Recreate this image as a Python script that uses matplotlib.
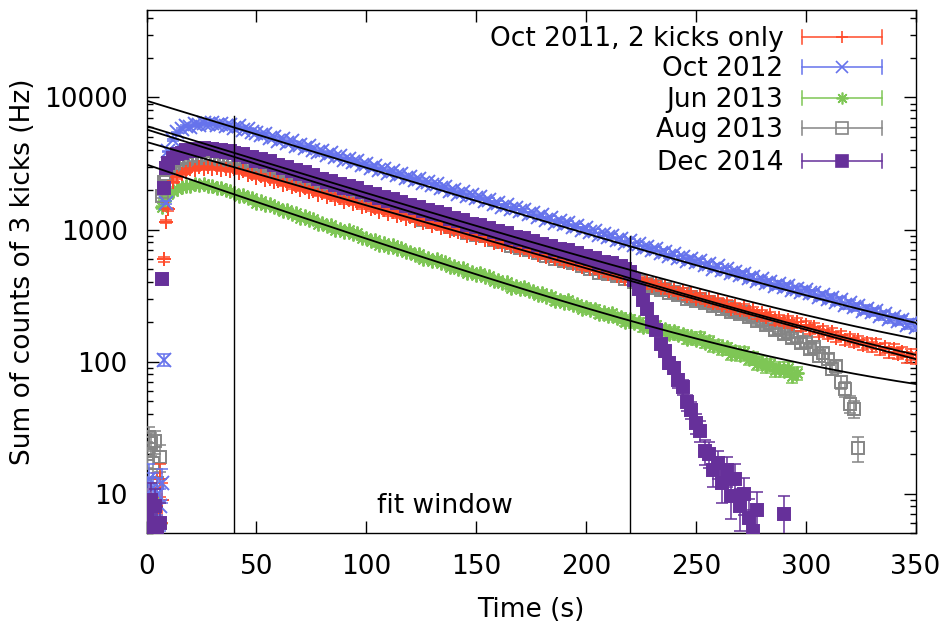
import numpy as np
import matplotlib
matplotlib.use('Agg')
import matplotlib.pyplot as plt
from matplotlib.ticker import FixedLocator, LogLocator, NullFormatter

# ---- data: first 10 s in 1 s bins, afterwards every 2 s ----
t_early = list(range(10))

oct11_t = t_early + list(range(10, 351, 2))
oct11_v = [8, 9, 6, 7, 6, 11, 13, 9, 595, 1150,
           1430, 2300, 2480, 2650, 2720, 2860, 2830, 2950, 2880, 2960, 2870, 2920, 2810, 2870, 2760,
           2850, 2700, 2760, 2580, 2640, 2470, 2560, 2390, 2420, 2290,
           2320, 2180, 2230, 2090, 2140, 1990, 2060, 1920, 1960, 1840,
           1880, 1760, 1810, 1700, 1720, 1610, 1660, 1560, 1590, 1480,
           1520, 1430, 1460, 1360, 1400, 1310, 1350, 1260, 1290, 1210,
           1240, 1170, 1200, 1120, 1150, 1060, 1100, 1030, 1050, 980,
           1000, 950, 970, 900, 930, 860, 890, 835, 850, 795,
           810, 770, 785, 735, 750, 700, 725, 675, 690, 645,
           660, 620, 635, 595, 605, 565, 590, 550, 560, 520,
           535, 505, 515, 480, 490, 460, 478, 445, 455, 420,
           432, 410, 418, 390, 400, 372, 388, 360, 368, 342,
           350, 332, 340, 312, 322, 300, 315, 290, 298, 276,
           285, 268, 274, 252, 262, 245, 256, 236, 244, 226,
           232, 218, 224, 205, 212, 200, 208, 193, 198, 185,
           190, 176, 182, 165, 172, 160, 166, 152, 158, 145,
           150, 140, 145, 133, 138, 130, 136, 124, 128, 118,
           124, 115, 119, 108, 113, 106]

oct12_t = t_early + list(range(10, 351, 2))
oct12_v = [9, 13, 7, 11, 6, 10, 8, 12, 103, 1600,
           3900, 4750, 5450, 5750, 6080, 6020, 6300, 6180, 6420, 6250, 6380, 6150, 6320, 6050, 6200,
           5900, 6050, 5720, 5800, 5480, 5420, 5160, 5330, 4970, 5050,
           4720, 4830, 4560, 4650, 4290, 4380, 4120, 4260, 3980, 3890,
           3900, 3660, 3770, 3520, 3600, 3380, 3450, 3230, 3300, 3080,
           3150, 2940, 3040, 2820, 2870, 2700, 2760, 2580, 2640, 2450,
           2510, 2360, 2420, 2250, 2300, 2160, 2220, 2060, 2100, 1960,
           2000, 1860, 1920, 1780, 1810, 1720, 1760, 1640, 1680, 1560,
           1600, 1490, 1530, 1420, 1460, 1380, 1400, 1310, 1330, 1240,
           1280, 1190, 1220, 1130, 1160, 1100, 1120, 1040, 1070, 990,
           1020, 950, 975, 905, 930, 880, 890, 830, 850, 790,
           815, 760, 780, 725, 740, 705, 715, 665, 680, 630,
           655, 610, 620, 580, 595, 565, 575, 535, 545, 505,
           525, 490, 500, 465, 475, 455, 460, 430, 440, 405,
           420, 395, 400, 375, 385, 370, 372, 350, 356, 335,
           348, 328, 333, 310, 318, 300, 305, 284, 290, 268,
           276, 257, 262, 243, 250, 236, 240, 223, 228, 210,
           216, 202, 206, 190, 196, 184]

jun13_t = t_early + list(range(10, 297, 2))
jun13_v = [6, 8, 5, 7, 6, 9, 6, 1480, 1650, 1780,
           1850, 1960, 2040, 2090, 2150, 2130, 2210, 2160, 2200, 2120, 2140, 2060, 2080, 1990, 1950,
           1880, 1790, 1820, 1720, 1740, 1590, 1650, 1540, 1560, 1470,
           1450, 1380, 1400, 1300, 1330, 1230, 1270, 1180, 1200, 1110,
           1120, 1060, 1080, 990, 1010, 950, 985, 920, 935, 865,
           870, 825, 840, 770, 790, 740, 765, 710, 720, 670,
           680, 640, 650, 595, 610, 575, 595, 555, 565, 520,
           530, 500, 508, 465, 475, 450, 468, 435, 442, 408,
           415, 392, 398, 362, 372, 352, 368, 340, 345, 320,
           328, 308, 314, 286, 294, 278, 292, 268, 272, 252,
           260, 246, 250, 228, 236, 222, 232, 214, 218, 200,
           210, 195, 200, 182, 190, 178, 188, 170, 175, 162,
           170, 158, 162, 148, 155, 145, 154, 138, 143, 130,
           134, 124, 128, 114, 120, 112, 118, 104, 108, 96,
           100, 92, 95, 86, 90, 85, 90, 78, 82]

aug13_t = t_early + list(range(10, 325, 2))
aug13_v = [20, 27, 24, 17, 25, 12, 19, 1780, 2300, 2650,
           2850, 2980, 3050, 3150, 3120, 3220, 3180, 3260, 3200, 3240, 3170, 3210, 3140, 3170, 3100,
           3150, 3020, 3080, 2930, 2960, 2800, 2880, 2740, 2770, 2620,
           2600, 2500, 2530, 2390, 2420, 2280, 2340, 2210, 2240, 2100,
           2110, 2010, 2050, 1900, 1950, 1820, 1880, 1770, 1800, 1680,
           1690, 1600, 1630, 1500, 1540, 1450, 1490, 1400, 1420, 1330,
           1340, 1270, 1290, 1190, 1220, 1150, 1190, 1120, 1130, 1050,
           1060, 1010, 1030, 945, 970, 915, 945, 890, 900, 840,
           845, 800, 815, 750, 770, 725, 750, 705, 715, 665,
           670, 635, 648, 595, 610, 575, 595, 560, 568, 528,
           535, 505, 515, 472, 485, 458, 474, 445, 452, 420,
           425, 400, 408, 375, 388, 362, 376, 350, 356, 332,
           338, 318, 325, 298, 308, 288, 300, 278, 282, 262,
           268, 252, 258, 236, 244, 228, 238, 218, 222, 204,
           206, 190, 195, 172, 180, 162, 168, 150, 154, 138,
           140, 125, 128, 110, 116, 104, 88, 92, 70, 62,
           48, 44, 22]

dec14_t = t_early + list(range(10, 279, 2)) + [290]
dec14_v = [7, 5, 9, 6, 8, 5.5, 6, 424, 2050, 2900,
           3200, 3480, 3720, 3830, 3990, 3950, 4100, 4020, 4120, 4050, 4080, 3960, 4010, 3880, 3900,
           3800, 3650, 3720, 3520, 3560, 3330, 3430, 3250, 3290, 3100,
           3060, 2920, 2960, 2770, 2820, 2630, 2720, 2560, 2590, 2430,
           2420, 2300, 2340, 2170, 2220, 2080, 2150, 2020, 2050, 1920,
           1920, 1830, 1860, 1720, 1760, 1650, 1700, 1600, 1620, 1520,
           1530, 1450, 1480, 1370, 1400, 1310, 1360, 1280, 1300, 1210,
           1220, 1160, 1180, 1090, 1110, 1045, 1080, 1010, 1030, 965,
           970, 920, 935, 870, 885, 835, 865, 810, 820, 770,
           780, 740, 752, 696, 710, 670, 694, 650, 660, 615,
           625, 596, 605, 558, 570, 540, 556, 522, 530, 500,
           480, 415, 352, 290, 248, 200, 172, 136, 120, 98,
           90, 72, 64, 49, 43, 34, 30, 21, 20, 15,
           17, 12, 15, 9.5, 13, 8, 10, 6.5, 5.2, 7.5,
           7]

labels = ["Oct 2011, 2 kicks only", "Oct 2012", "Jun 2013", "Aug 2013", "Dec 2014"]
times = [oct11_t, oct12_t, jun13_t, aug13_t, dec14_t]
rates = [oct11_v, oct12_v, jun13_v, aug13_v, dec14_v]

# exponential fits  A*exp(-k t) + C  (fit window 40..220 s)
fit_amp = [4596, 9415, 3070, 5700, 6030]
fit_k = [0.0111, 0.0118, 0.01326, 0.0121, 0.0119]
fit_c = [10, 45, 38, 30, 55]
fit_window = [40, 220]
fit_window_top = [7200, 900]

colors = ['#ff4a2a', '#6673ec', '#7ec655', '#858585', '#66309a']
markers = ['+', 'x', (8, 2, 0), 's', 's']
filled = [True, True, True, False, True]
msizes = [10, 9.5, 10, 8, 8]
zorders = [4, 5, 2, 3, 6]   # red drawn above gray, purple on top

FS = 19

fig = plt.figure(figsize=(9.48, 6.25), dpi=100)
ax = fig.add_axes([146.5/948, 1-533.3/625, 769/948, 523.3/625])

for i in range(len(labels)):
    t = np.array(times[i], dtype=float)
    v = np.array(rates[i], dtype=float)
    err = np.sqrt(v)  # Poisson error, 1 s bins
    ax.errorbar(t, v, yerr=err, fmt='none', ecolor=colors[i], elinewidth=1.1,
                capsize=4.5, capthick=1.1, zorder=zorders[i])
    ax.plot(t, v, ls='none', marker=markers[i], ms=msizes[i], mec=colors[i],
            mfc=colors[i] if filled[i] else 'none', mew=1.4, zorder=zorders[i])

tt = np.linspace(0, 350, 500)
for i in range(len(labels)):
    ax.plot(tt, fit_amp[i]*np.exp(-fit_k[i]*tt) + fit_c[i], color='black', lw=1.3, zorder=10)

for x, top in zip(fit_window, fit_window_top):
    ax.plot([x, x], [5, top], color='black', lw=1, zorder=10)
ax.text(136, 8.1, 'fit window', fontsize=FS, ha='center', va='center')

ax.set_yscale('log')
ax.set_xlim(0, 350)
ax.set_ylim(5, 46000)
ax.xaxis.set_major_locator(FixedLocator(range(0, 351, 50)))
ax.yaxis.set_major_locator(FixedLocator([10, 100, 1000, 10000]))
ax.set_yticklabels(['10', '100', '1000', '10000'])
ax.yaxis.set_minor_locator(LogLocator(base=10, subs=np.arange(2, 10)))
ax.yaxis.set_minor_formatter(NullFormatter())
ax.tick_params(which='both', direction='in', top=True, right=True, labelsize=FS, width=1)
ax.tick_params(which='major', length=8.5)
ax.tick_params(axis='x', which='major', pad=15)
ax.tick_params(axis='y', which='major', pad=13.5)
ax.tick_params(which='minor', length=4.5)
for s in ax.spines.values():
    s.set_linewidth(1)

ax.set_xlabel('Time (s)', fontsize=FS)
ax.xaxis.set_label_coords(0.5, -0.121)
ax.set_ylabel('Sum of counts of 3 kicks (Hz)', fontsize=FS)
ax.yaxis.set_label_coords(-0.1437, 0.5)

# gnuplot style key: text right aligned, horizontal error bar sample
row_y = [0.9478, 0.8905, 0.8313, 0.7740, 0.7120]
for i in range(len(labels)):
    y = row_y[i]
    ax.text(0.8281, y - 0.0175, labels[i], transform=ax.transAxes, fontsize=FS,
            ha='right', va='baseline')
    ax.plot([0.852, 0.956], [y, y], color=colors[i], lw=1.1, transform=ax.transAxes, clip_on=False)
    for xc in (0.852, 0.956):
        ax.plot([xc, xc], [y - 0.0134, y + 0.0134], color=colors[i], lw=1.1,
                transform=ax.transAxes, clip_on=False)
    ax.plot([0.9048], [y], marker=markers[i], ms=8.5, mec=colors[i],
            mfc=colors[i] if filled[i] else 'none', mew=1.2, transform=ax.transAxes, clip_on=False)

fig.savefig('out.png', dpi=100)
